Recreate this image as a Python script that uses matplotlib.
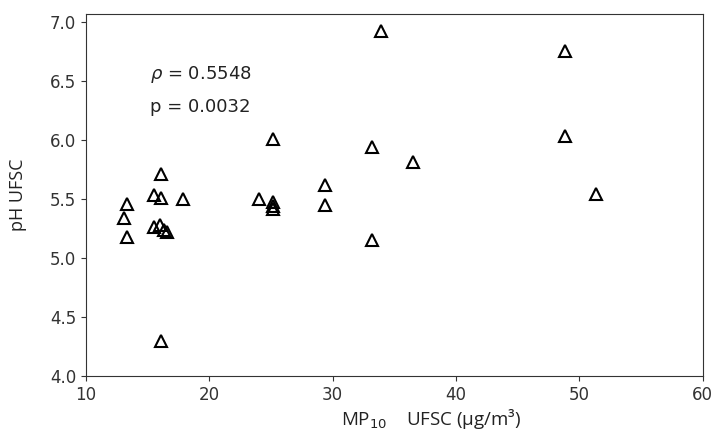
import numpy as np
import matplotlib.pyplot as plt

# MP10 concentration vs rain pH, UFSC station
mp10 = [13.3, 13.1, 13.3, 15.5, 16.1, 16.05, 17.85, 15.5, 16.0, 16.3, 16.6,
        16.05, 24.0, 25.15, 25.15, 25.15, 33.9, 25.15, 33.2, 36.5, 29.4, 29.4,
        33.2, 48.85, 48.85, 51.3]
ph = [5.46, 5.34, 5.18, 5.53, 5.51, 5.71, 5.50, 5.26, 5.28, 5.24, 5.22,
      4.30, 5.50, 5.47, 5.44, 5.41, 6.92, 6.01, 5.94, 5.81, 5.62, 5.45,
      5.15, 6.75, 6.03, 5.54]

rho_txt = r'$\rho$ = 0.5548'
p_txt = 'p = 0.0032'

fig = plt.figure(figsize=(7.15, 4.37), dpi=100)
ax = fig.add_axes([0.1203, 0.1396, 0.8627, 0.8284])

ax.plot(mp10, ph, linestyle='none', marker='^', markersize=9,
        markerfacecolor='none', markeredgecolor='black', markeredgewidth=1.5)

ax.set_xlim(10, 60)
ax.set_ylim(4.0, 7.065)
ax.set_yticks(np.arange(4.0, 7.01, 0.5))
ax.tick_params(labelsize=12, colors='#333333')
for s in ax.spines.values():
    s.set_color('#333333')

ax.text(0.103, 0.834, rho_txt, transform=ax.transAxes, fontsize=13, va='center', color='#222222')
ax.text(0.103, 0.743, p_txt, transform=ax.transAxes, fontsize=13, va='center', color='#222222')

ax.set_ylabel('pH UFSC', fontsize=13, family='Open Sans', color='#222222')
ax.set_xlabel(r'MP$_{10}$    UFSC (µg/m³)', fontsize=13.5, family='Open Sans', color='#222222')
ax.xaxis.set_label_coords(0.56, -0.085)
ax.yaxis.set_label_coords(-0.095, 0.5)

fig.savefig('out.png', dpi=100)
